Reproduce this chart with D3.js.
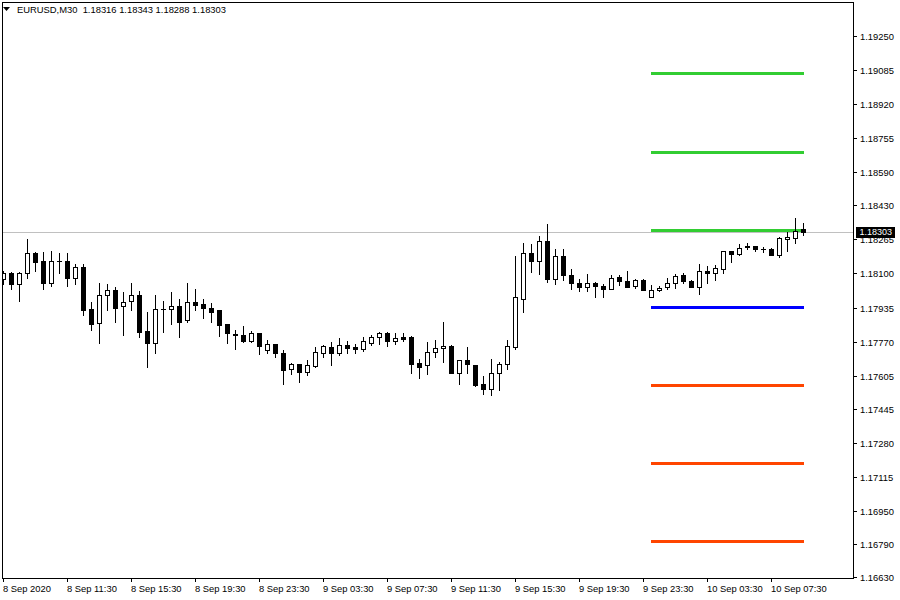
<!DOCTYPE html>
<html>
<head>
<meta charset="utf-8">
<script src="https://cdn.jsdelivr.net/npm/d3@7/dist/d3.min.js"></script>
<style>
  html, body { margin: 0; padding: 0; background: #fff; }
  svg { display: block; }
  text { font-family: "Liberation Sans", Arial, sans-serif; font-size: 9.4px; fill: #000; }
</style>
</head>
<body>
<svg id="chart" width="900" height="600"></svg>
<script>
// ---------------- DATA ----------------
const symbolTitle = "EURUSD,M30";
const lastBar = { open: 1.18316, high: 1.18343, low: 1.18288, close: 1.18303 };

const open = [
  1.18073,1.18102,1.18049,1.18102,1.18199,1.18160,1.18054,1.18160,1.18160,1.18078,
  1.18131,1.17928,1.17860,1.17996,1.18020,1.17943,1.17967,1.17996,1.17821,1.17763,
  1.17928,1.17928,1.17943,1.17875,1.17962,1.17952,1.17933,1.17923,1.17855,1.17807,
  1.17802,1.17773,1.17812,1.17729,1.17758,1.17715,1.17637,1.17662,1.17623,1.17652,
  1.17715,1.17744,1.17715,1.17754,1.17744,1.17734,1.17763,1.17792,1.17812,1.17773,
  1.17792,1.17792,1.17666,1.17657,1.17720,1.17739,1.17749,1.17618,1.17681,1.17657,
  1.17565,1.17541,1.17618,1.17662,1.17744,1.17976,1.18199,1.18160,1.18257,1.18073,
  1.18185,1.18093,1.18054,1.18035,1.18054,1.18039,1.18025,1.18083,1.18064,1.18039,
  1.18068,1.17986,1.18020,1.18035,1.18054,1.18093,1.18064,1.18035,1.18112,1.18102,
  1.18122,1.18209,1.18194,1.18233,1.18233,1.18219,1.18219,1.18190,1.18267,1.18272,
  1.18316
];
const high = [
  1.18112,1.18107,1.18107,1.18267,1.18204,1.18204,1.18209,1.18199,1.18199,1.18146,
  1.18146,1.17962,1.18054,1.18049,1.18035,1.18010,1.18054,1.18015,1.17913,1.17996,
  1.17967,1.18010,1.17976,1.18054,1.18025,1.17976,1.17957,1.17923,1.17855,1.17826,
  1.17846,1.17821,1.17812,1.17778,1.17758,1.17729,1.17666,1.17662,1.17681,1.17744,
  1.17754,1.17768,1.17788,1.17773,1.17758,1.17792,1.17802,1.17817,1.17817,1.17812,
  1.17812,1.17797,1.17686,1.17768,1.17778,1.17865,1.17754,1.17682,1.17744,1.17657,
  1.17603,1.17686,1.17671,1.17778,1.18185,1.18248,1.18243,1.18282,1.18340,1.18219,
  1.18219,1.18122,1.18073,1.18098,1.18059,1.18049,1.18093,1.18093,1.18112,1.18073,
  1.18073,1.18044,1.18039,1.18078,1.18098,1.18102,1.18068,1.18146,1.18136,1.18141,
  1.18210,1.18210,1.18243,1.18248,1.18234,1.18228,1.18224,1.18277,1.18301,1.18369,
  1.18343
];
const low = [
  1.18049,1.18025,1.17967,1.18078,1.18112,1.18025,1.18039,1.18102,1.18039,1.18049,
  1.17899,1.17826,1.17763,1.17923,1.17865,1.17802,1.17923,1.17792,1.17647,1.17715,
  1.17817,1.17855,1.17792,1.17865,1.17923,1.17884,1.17865,1.17797,1.17763,1.17734,
  1.17768,1.17768,1.17710,1.17715,1.17695,1.17565,1.17613,1.17574,1.17608,1.17647,
  1.17695,1.17657,1.17705,1.17715,1.17715,1.17725,1.17754,1.17758,1.17749,1.17758,
  1.17773,1.17618,1.17594,1.17613,1.17695,1.17671,1.17617,1.17565,1.17618,1.17555,
  1.17516,1.17511,1.17536,1.17637,1.17734,1.17913,1.18107,1.18098,1.18059,1.18049,
  1.18068,1.18025,1.18015,1.18015,1.17986,1.17986,1.18023,1.18044,1.18034,1.18030,
  1.18019,1.17985,1.18015,1.18025,1.18030,1.18054,1.18034,1.18001,1.18054,1.18068,
  1.18102,1.18156,1.18190,1.18219,1.18209,1.18204,1.18189,1.18180,1.18209,1.18248,
  1.18288
];
const close = [
  1.18102,1.18049,1.18102,1.18199,1.18156,1.18054,1.18160,1.18161,1.18078,1.18131,
  1.17923,1.17855,1.17996,1.18020,1.17933,1.17962,1.17996,1.17817,1.17763,1.17928,
  1.17929,1.17943,1.17865,1.17962,1.17947,1.17933,1.17913,1.17851,1.17812,1.17802,
  1.17773,1.17812,1.17749,1.17758,1.17715,1.17633,1.17662,1.17623,1.17657,1.17720,
  1.17749,1.17715,1.17754,1.17739,1.17734,1.17773,1.17792,1.17812,1.17773,1.17788,
  1.17783,1.17662,1.17647,1.17720,1.17739,1.17749,1.17619,1.17681,1.17662,1.17560,
  1.17541,1.17618,1.17662,1.17749,1.17986,1.18199,1.18160,1.18257,1.18073,1.18185,
  1.18093,1.18054,1.18035,1.18054,1.18039,1.18025,1.18078,1.18064,1.18035,1.18068,
  1.18020,1.18020,1.18030,1.18054,1.18088,1.18064,1.18035,1.18112,1.18102,1.18127,
  1.18209,1.18194,1.18224,1.18228,1.18219,1.18220,1.18190,1.18272,1.18277,1.18306,
  1.18303
];

// time-axis labels (one every 8 bars = 4 hours)
const timeLabels = ["8 Sep 2020","8 Sep 11:30","8 Sep 15:30","8 Sep 19:30","8 Sep 23:30",
  "9 Sep 03:30","9 Sep 07:30","9 Sep 11:30","9 Sep 15:30","9 Sep 19:30","9 Sep 23:30",
  "10 Sep 03:30","10 Sep 07:30"];
const barsPerLabel = 8;

// price-axis labels
const priceTicks = [1.19250,1.19085,1.18920,1.18755,1.18590,1.18430,1.18265,1.18100,
  1.17935,1.17770,1.17605,1.17445,1.17280,1.17115,1.16950,1.16790,1.16630];

// daily pivot levels, starting at bar of 10 Sep 00:00
const levelNames  = ["R3","R2","R1","P","S1","S2","S3"];
const levelValues = [1.19071,1.18688,1.18311,1.17938,1.17560,1.17182,1.16804];
const levelStartBar = 81;

// ---------------- STYLE ----------------
const levelColor = { R: "#32CD32", P: "#0000FF", S: "#FF4500" };
const W = 900, H = 600;
const frame = { left: 2, top: 2, right: 853, bottom: 578 };

// ---------------- DRAW ----------------
const svg = d3.select("#chart");
const n = close.length;

const x = d3.scaleLinear().domain([0, n - 1]).range([3, 3 + 8 * (n - 1)]);
const y = d3.scaleLinear().domain([priceTicks[priceTicks.length - 1], priceTicks[0]]).rangeRound([577, 36]);

svg.append("rect").attr("width", W).attr("height", H).attr("fill", "#fff");

svg.append("defs").append("clipPath").attr("id", "plotClip")
  .append("rect").attr("x", frame.left + 1).attr("y", frame.top + 1)
  .attr("width", frame.right - frame.left - 1).attr("height", frame.bottom - frame.top - 1);

const plot = svg.append("g").attr("clip-path", "url(#plotClip)");

// bid line
plot.append("rect")
  .attr("x", frame.left).attr("y", y(lastBar.close))
  .attr("width", frame.right - frame.left).attr("height", 1)
  .attr("fill", "#C0C0C0");

// pivot levels
plot.selectAll("rect.level").data(levelValues).enter().append("rect")
  .attr("class", "level")
  .attr("x", x(levelStartBar))
  .attr("y", d => y(d) - 1)
  .attr("width", x(n - 1) - x(levelStartBar) + 1)
  .attr("height", 3)
  .attr("fill", (d, i) => levelColor[levelNames[i][0]]);

// candles
const bars = d3.range(n).map(i => ({ i, o: open[i], h: high[i], l: low[i], c: close[i] }));
const cg = plot.selectAll("g.candle").data(bars).enter().append("g").attr("class", "candle");

cg.append("rect")
  .attr("x", d => Math.round(x(d.i)))
  .attr("y", d => y(d.h))
  .attr("width", 1)
  .attr("height", d => y(d.l) - y(d.h) + 1)
  .attr("fill", "#000");

cg.each(function(d) {
  const g = d3.select(this);
  const cx = Math.round(x(d.i));
  const top = y(Math.max(d.o, d.c));
  const bot = y(Math.min(d.o, d.c));
  if (bot - top <= 1 || d.c < d.o) {
    g.append("rect").attr("x", cx - 2).attr("y", top)
      .attr("width", 5).attr("height", Math.max(1, bot - top + 1)).attr("fill", "#000");
  } else {
    g.append("rect").attr("x", cx - 1.5).attr("y", top + 0.5)
      .attr("width", 4).attr("height", bot - top)
      .attr("fill", "#fff").attr("stroke", "#000").attr("stroke-width", 1);
  }
});

// frame
svg.append("rect")
  .attr("x", frame.left + 0.5).attr("y", frame.top + 0.5)
  .attr("width", frame.right - frame.left).attr("height", frame.bottom - frame.top)
  .attr("fill", "none").attr("stroke", "#000").attr("stroke-width", 1);

// price axis
const yAxis = d3.axisRight(y).tickValues(priceTicks).tickFormat(d3.format(".5f"))
  .tickSize(4).tickPadding(3);
const yg = svg.append("g").attr("transform", `translate(${frame.right},0)`).call(yAxis);
yg.select(".domain").remove();
yg.selectAll("text").attr("font-family", null).attr("font-size", null).attr("fill", "#000");
yg.selectAll("line").attr("stroke", "#000");

// time axis
const xAxis = d3.axisBottom(x)
  .tickValues(timeLabels.map((t, i) => i * barsPerLabel))
  .tickFormat((d, i) => timeLabels[i])
  .tickSize(4).tickPadding(3);
const xg = svg.append("g").attr("transform", `translate(0,${frame.bottom})`).call(xAxis);
xg.select(".domain").remove();
xg.selectAll("text").attr("font-family", null).attr("font-size", null)
  .attr("text-anchor", "start").attr("x", -0.5).attr("fill", "#000");
xg.selectAll("line").attr("stroke", "#000");

// bid label on the price axis
const bidY = y(lastBar.close);
svg.append("rect").attr("x", 856).attr("y", bidY - 5).attr("width", 39).attr("height", 11).attr("fill", "#000");
svg.append("text").attr("x", 859.5).attr("y", bidY).attr("dy", "0.35em")
  .style("fill", "#fff").style("font-size", "9px").text(d3.format(".5f")(lastBar.close));

// header
svg.append("path").attr("d", "M3,7L10,7L6.5,11Z").attr("fill", "#000");
svg.append("text").attr("x", 17).attr("y", 12.5).attr("xml:space", "preserve")
  .style("white-space", "pre")
  .text(`${symbolTitle}  ${[lastBar.open, lastBar.high, lastBar.low, lastBar.close].map(d3.format(".5f")).join(" ")}`);
</script>
</body>
</html>
